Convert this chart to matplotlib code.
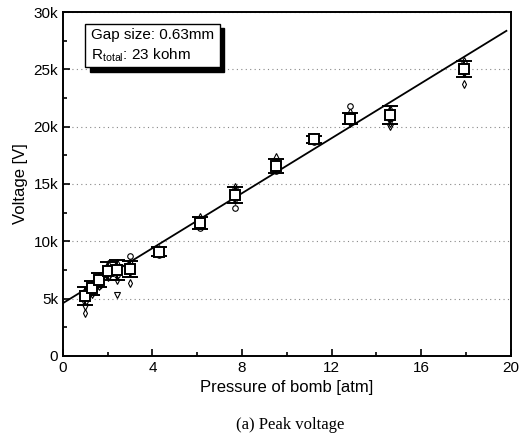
#!/usr/bin/env python3
import numpy as np
import matplotlib.pyplot as plt
from matplotlib.patches import Rectangle
from matplotlib.ticker import MultipleLocator, FuncFormatter

plt.rcParams["font.family"] = ["Liberation Sans", "DejaVu Sans"]

# pressure [atm] and voltage [kV]
pressure = [1.0, 1.3, 1.6, 2.0, 2.4, 3.0, 4.3, 6.1, 7.7, 9.5, 11.2, 12.8, 14.6, 17.9]
v_mean = [5.2, 5.9, 6.6, 7.4, 7.5, 7.6, 9.1, 11.6, 14.0, 16.6, 18.9, 20.7, 21.0, 25.0]
v_err = [0.8, 0.6, 0.6, 0.8, 0.9, 0.7, 0.4, 0.5, 0.7, 0.6, 0.3, 0.5, 0.8, 0.7]

# individual shots
v_up = [5.6, 6.3, 7.0, 8.1, 8.2, 8.3, 9.4, 12.2, 14.8, 17.4, 19.2, 21.4, 21.6, 25.8]
v_circle = [4.8, 5.5, 6.1, 7.0, 7.1, 8.7, 8.8, 11.2, 12.9, 16.1, 18.7, 21.8, 20.7, 25.3]
v_down = [4.3, 5.3, 6.0, 6.8, 5.3, 7.2, 8.9, 11.9, 13.5, 16.3, 19.0, 20.2, 20.0, 24.6]
v_diamond = [3.7, 5.7, 6.4, 7.3, 6.6, 6.4, 9.0, 11.4, 14.5, 16.9, 18.8, 20.4, 20.3, 23.7]

fit_x = [0, 19.8]
fit_intercept = 4.6
fit_slope = 1.2

fig = plt.figure(figsize=(5.24, 4.46), dpi=100)
ax = fig.add_axes([0.120, 0.202, 0.855, 0.771])

fx = np.array(fit_x)
ax.plot(fx, (fit_intercept + fit_slope * fx) * 1000, color="black", lw=1.3, zorder=2)

ms = dict(linestyle="none", mfc="white", mec="black", mew=0.8, ms=4, zorder=3)
pk = np.array(pressure)
ax.plot(pk, np.array(v_up) * 1000, marker="^", **ms)
ax.plot(pk, np.array(v_circle) * 1000, marker="o", **ms)
ax.plot(pk, np.array(v_down) * 1000, marker="v", **ms)
ax.plot(pk, np.array(v_diamond) * 1000, marker="d", **ms)

ax.errorbar(pk, np.array(v_mean) * 1000, yerr=np.array(v_err) * 1000,
            fmt="s", ms=7, mfc="white", mec="black", mew=1.4,
            ecolor="black", elinewidth=1.4, capsize=6, capthick=1.6, zorder=4)

ax.set_xlim(0, 20)
ax.set_ylim(0, 30000)
ax.xaxis.set_major_locator(MultipleLocator(4))
ax.xaxis.set_minor_locator(MultipleLocator(2))
ax.yaxis.set_major_locator(MultipleLocator(5000))
ax.yaxis.set_minor_locator(MultipleLocator(2500))
ax.yaxis.set_major_formatter(FuncFormatter(lambda v, _: "0" if v == 0 else f"{int(v / 1000)}k"))
ax.tick_params(which="both", direction="in", labelsize=11, width=1.2)
ax.tick_params(which="major", length=5)
ax.tick_params(which="minor", length=3)
for s in ax.spines.values():
    s.set_linewidth(1.4)

ax.grid(axis="y", which="major", linestyle=(0, (1, 3)), color="#888888", lw=0.8)

ax.set_xlabel("Pressure of bomb [atm]", fontsize=12)
ax.set_ylabel("Voltage [V]", fontsize=12)

# text box with drop shadow
ax.add_patch(Rectangle((1.2, 24800), 6.0, 3800, facecolor="black",
                       edgecolor="black", zorder=5))
ax.add_patch(Rectangle((1.0, 25200), 6.0, 3800, facecolor="white",
                       edgecolor="black", lw=1.0, zorder=6))
ax.text(1.25, 28000, "Gap size: 0.63mm", fontsize=11, va="center", zorder=7)
ax.text(1.25, 26200, r"R$_{\mathregular{total}}$: 23 kohm", fontsize=11,
        va="center", zorder=7)

fig.text(0.553, 0.048, "(a) Peak voltage", ha="center", va="center",
         fontsize=12, family=["Liberation Serif", "DejaVu Serif"])

fig.savefig("out.png", dpi=100)
